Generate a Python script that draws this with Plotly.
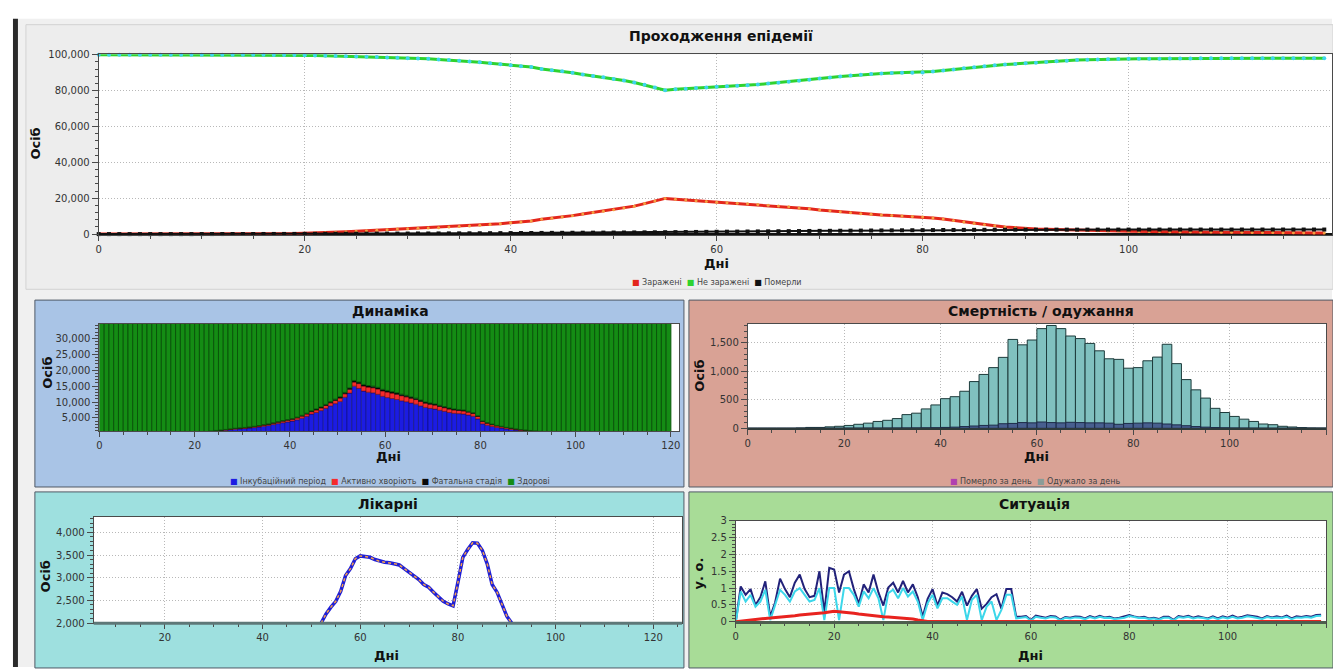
import numpy as np
import plotly.graph_objects as go

W, H = 1333, 672

# ---------------- data ----------------
days = list(range(120))

not_infected = [
    100000, 100000, 100000, 100000, 100000, 100000, 100000, 100000, 100000, 100000,
    100000, 100000, 100000, 100000, 100000, 100000, 99950, 99900, 99850, 99800,
    99700, 99600, 99500, 99350, 99200, 99050, 98900, 98700, 98500, 98300,
    98100, 97900, 97700, 97400, 97100, 96700, 96200, 95800, 95300, 94700,
    94100, 93600, 93100, 92000, 91400, 90800, 89900, 89000, 88200, 87400,
    86500, 85600, 84500, 83200, 81700, 80200, 80700, 81000, 81400, 81800,
    82100, 82400, 82700, 83000, 83400, 83900, 84400, 84900, 85500, 86100,
    86700, 87300, 87900, 88400, 88900, 89200, 89600, 89800, 89900, 90000,
    90100, 90600, 91200, 91800, 92400, 93000, 93600, 94100, 94500, 94900,
    95300, 95600, 95900, 96300, 96700, 97000, 97200, 97400, 97500, 97600,
    97700, 97800, 97800, 97800, 97900, 97900, 97900, 98000, 98000, 98000,
    98000, 98000, 98000, 98100, 98100, 98100, 98100, 98100, 98100, 98100]

infected = [
    10, 10, 10, 15, 15, 20, 20, 25, 25, 30,
    30, 35, 40, 45, 50, 55, 60, 100, 200, 300,
    450, 600, 800, 1000, 1300, 1600, 1900, 2200, 2500, 2800,
    3000, 3200, 3400, 3600, 3900, 4200, 4500, 4900, 5300, 5800,
    6300, 6800, 7300, 8300, 8900, 9500, 10300, 11200, 12000, 12800,
    13600, 14500, 15600, 17000, 18500, 19900, 19400, 19000, 18600, 18200,
    17800, 17500, 17200, 16900, 16500, 16100, 15700, 15200, 14600, 14100,
    13500, 13000, 12400, 11900, 11400, 11100, 10700, 10400, 10100, 9800,
    9500, 9000, 8400, 7600, 6700, 5900, 5200, 4600, 4000, 3500,
    3100, 2900, 2700, 2500, 2350, 2200, 2050, 1900, 1800, 1700,
    1600, 1500, 1450, 1400, 1350, 1300, 1250, 1200, 1150, 1100,
    1050, 1000, 950, 900, 850, 800, 750, 700, 650, 600]

dead = [
    0, 0, 0, 0, 0, 0, 0, 0, 0, 0,
    20, 30, 40, 50, 60, 70, 80, 90, 100, 110,
    120, 140, 160, 180, 200, 220, 240, 260, 280, 300,
    320, 340, 360, 380, 400, 420, 450, 480, 510, 540,
    570, 600, 630, 660, 690, 720, 750, 780, 810, 840,
    870, 900, 940, 980, 1020, 1060, 1100, 1150, 1200, 1250,
    1300, 1350, 1400, 1450, 1500, 1550, 1600, 1650, 1700, 1750,
    1800, 1840, 1880, 1920, 1960, 2000, 2040, 2080, 2120, 2160,
    2200, 2240, 2280, 2310, 2340, 2370, 2400, 2420, 2440, 2460,
    2480, 2490, 2490, 2500, 2500, 2500, 2510, 2510, 2510, 2520,
    2520, 2520, 2530, 2530, 2530, 2530, 2540, 2540, 2540, 2540,
    2540, 2550, 2550, 2550, 2550, 2550, 2550, 2550, 2550, 2550]

# Dynamics panel (stacked per day)
incubation = [
    0, 0, 0, 0, 0, 0, 0, 0, 0, 0,
    0, 0, 0, 0, 10, 20, 40, 70, 110, 160,
    300, 450, 600, 750, 900, 1000, 1150, 1300, 1450, 1550,
    1650, 1800, 1950, 2150, 2400, 2600, 2900, 3200, 3500, 3750,
    4000, 4400, 4900, 5500, 6200, 6700, 7300, 8000, 8800, 9500,
    10200, 11500, 12800, 15000, 14300, 13450, 13100, 12900, 12430, 11800,
    11400, 11100, 10800, 10400, 10100, 9700, 9330, 8800, 8300, 8000,
    7790, 7400, 7070, 6700, 6450, 6350, 6240, 5900, 5520, 4690,
    3140, 2700, 2300, 2000, 1800, 1550, 1380, 1200, 1050, 950,
    850, 750, 650, 550, 450, 380, 300, 230, 170, 120,
    90, 70, 50, 40, 30, 20, 15, 10, 5, 5,
    0, 0, 0, 0, 0, 0, 0, 0, 0, 0]

active = [
    0, 0, 0, 0, 0, 0, 0, 0, 0, 0,
    0, 0, 0, 0, 2, 4, 6, 10, 15, 20,
    30, 50, 70, 90, 110, 130, 150, 170, 200, 220,
    240, 260, 280, 300, 330, 360, 400, 440, 480, 520,
    560, 600, 650, 700, 760, 800, 850, 900, 950, 1000,
    1050, 1100, 1200, 1300, 1500, 1600, 1600, 1600, 1700, 1700,
    1750, 1700, 1650, 1600, 1550, 1500, 1450, 1400, 1350, 1300,
    1250, 1200, 1150, 1100, 1050, 1000, 950, 900, 850, 750,
    700, 600, 550, 450, 400, 350, 300, 250, 200, 150,
    120, 100, 80, 60, 50, 40, 30, 20, 10, 8,
    5, 5, 3, 2, 1, 0, 0, 0, 0, 0,
    0, 0, 0, 0, 0, 0, 0, 0, 0, 0]

fatal = [
    0, 0, 0, 0, 0, 0, 0, 0, 0, 0,
    0, 0, 0, 0, 0, 0, 2, 4, 6, 8,
    20, 25, 30, 40, 50, 60, 70, 80, 90, 100,
    110, 120, 130, 140, 150, 160, 170, 180, 190, 200,
    220, 240, 260, 280, 300, 320, 340, 360, 380, 400,
    420, 440, 460, 480, 500, 500, 500, 500, 500, 500,
    500, 480, 480, 460, 460, 440, 440, 420, 400, 400,
    380, 360, 350, 340, 320, 300, 300, 300, 280, 260,
    240, 220, 200, 180, 160, 140, 120, 100, 90, 80,
    70, 60, 50, 40, 30, 20, 20, 10, 10, 5,
    5, 5, 0, 0, 0, 0, 0, 0, 0, 0,
    0, 0, 0, 0, 0, 0, 0, 0, 0, 0]

healthy = not_infected  # "Здорові" – fills the rest of the column (clipped by axis)

# Mortality / recovery (2-day bins)
mort_days = list(range(0, 120, 2))
recovered = [
    0, 0, 0, 0, 0, 5, 15, 15, 25, 35,
    50, 70, 90, 120, 140, 170, 240, 265, 340, 410,
    520, 555, 650, 820, 945, 1065, 1245, 1560, 1465, 1550,
    1750, 1805, 1750, 1620, 1575, 1490, 1360, 1220, 1210, 1055,
    1065, 1185, 1250, 1475, 1135, 855, 675, 530, 350, 277,
    208, 160, 120, 75, 63, 35, 23, 12, 5, 3]
died = [
    0, 0, 0, 0, 0, 0, 0, 0, 0, 0,
    2, 2, 3, 3, 4, 5, 6, 7, 8, 10,
    15, 20, 30, 40, 50, 55, 80, 85, 100, 95,
    110, 100, 95, 105, 100, 95, 95, 90, 70, 85,
    90, 95, 90, 75, 60, 45, 30, 20, 12, 8,
    5, 3, 2, 1, 0, 0, 0, 0, 0, 0]

# Hospitals
hosp_days = list(range(52, 92))
hospital = [
    2000, 2200, 2350, 2480, 2700, 3050, 3200, 3420, 3480, 3470,
    3450, 3400, 3360, 3340, 3330, 3310, 3280, 3200, 3120, 3020,
    2960, 2850, 2790, 2680, 2580, 2480, 2420, 2380, 2900, 3450,
    3620, 3770, 3760, 3600, 3300, 2850, 2680, 2400, 2150, 2000]

# Situation
sit_navy = [
    0.0, 1.05, 0.8, 0.97, 0.5, 0.73, 1.2, 0.15, 0.58, 1.28,
    0.97, 0.73, 1.16, 1.4, 0.97, 0.73, 0.77, 1.5, 0.29, 1.6,
    1.55, 0.87, 1.4, 1.5, 0.97, 0.53, 1.11, 0.87, 1.4, 0.87,
    0.48, 1.02, 1.16, 0.87, 1.21, 0.87, 1.11, 0.73, 0.15, 0.68,
    0.97, 0.48, 0.87, 0.82, 0.73, 0.6, 0.89, 0.48, 0.77, 0.97,
    0.39, 0.53, 0.73, 0.82, 0.39, 0.97, 0.97, 0.15, 0.15, 0.17,
    0.05, 0.18, 0.15, 0.12, 0.17, 0.16, 0.06, 0.14, 0.12, 0.16,
    0.15, 0.1, 0.17, 0.12, 0.18, 0.13, 0.15, 0.1, 0.12, 0.15,
    0.2, 0.16, 0.13, 0.15, 0.1, 0.12, 0.08, 0.15, 0.15, 0.06,
    0.17, 0.14, 0.18, 0.12, 0.16, 0.13, 0.1, 0.16, 0.1, 0.16,
    0.12, 0.18, 0.12, 0.15, 0.19, 0.17, 0.15, 0.1, 0.17, 0.13,
    0.16, 0.13, 0.18, 0.1, 0.16, 0.14, 0.17, 0.15, 0.2, 0.21]
sit_cyan = [
    0.0, 0.9, 0.6, 0.8, 0.45, 0.6, 0.95, 0.05, 0.5, 0.95,
    0.8, 0.6, 0.9, 1.0, 0.8, 0.6, 0.65, 1.0, 0.05, 1.0,
    1.0, 0.05, 1.0, 1.0, 0.8, 0.45, 0.9, 0.7, 1.0, 0.7,
    0.05, 0.85, 0.95, 0.7, 1.0, 0.75, 0.9, 0.6, 0.05, 0.55,
    0.8, 0.4, 0.7, 0.7, 0.6, 0.5, 0.75, 0.05, 0.65, 0.8,
    0.05, 0.45, 0.6, 0.05, 0.35, 0.8, 0.8, 0.1, 0.12, 0.14,
    0.03, 0.15, 0.12, 0.1, 0.14, 0.13, 0.04, 0.12, 0.1, 0.13,
    0.12, 0.08, 0.14, 0.1, 0.15, 0.11, 0.12, 0.08, 0.1, 0.12,
    0.17, 0.13, 0.11, 0.12, 0.08, 0.1, 0.06, 0.12, 0.12, 0.04,
    0.14, 0.12, 0.15, 0.1, 0.13, 0.11, 0.08, 0.13, 0.08, 0.13,
    0.1, 0.15, 0.1, 0.12, 0.16, 0.14, 0.12, 0.08, 0.14, 0.11,
    0.13, 0.11, 0.15, 0.08, 0.13, 0.12, 0.14, 0.12, 0.17, 0.18]
sit_red = [
    0.0, 0.02, 0.03, 0.05, 0.07, 0.08, 0.1, 0.11, 0.12, 0.14,
    0.15, 0.17, 0.18, 0.2, 0.21, 0.22, 0.24, 0.25, 0.27, 0.29,
    0.31, 0.3, 0.29, 0.27, 0.25, 0.23, 0.21, 0.2, 0.18, 0.17,
    0.15, 0.14, 0.13, 0.12, 0.11, 0.1, 0.08, 0.05, 0.02, 0.01,
    0.01, 0.01, 0.01, 0.01, 0.01, 0.01, 0.01, 0.01, 0.01, 0.01,
    0.01, 0.01, 0.01, 0.01, 0.01, 0.01, 0.01, 0.01, 0.01, 0.01,
    0.01, 0.01, 0.01, 0.01, 0.01, 0.01, 0.01, 0.01, 0.01, 0.01,
    0.01, 0.01, 0.01, 0.01, 0.01, 0.01, 0.01, 0.01, 0.01, 0.01,
    0.01, 0.01, 0.01, 0.01, 0.01, 0.01, 0.01, 0.01, 0.01, 0.01,
    0.01, 0.01, 0.01, 0.01, 0.01, 0.01, 0.01, 0.01, 0.01, 0.01,
    0.01, 0.01, 0.01, 0.01, 0.01, 0.01, 0.01, 0.01, 0.01, 0.01,
    0.01, 0.01, 0.01, 0.01, 0.01, 0.01, 0.01, 0.01, 0.01, 0.01]

# ---------------- helpers ----------------
def fx(x):
    return x / W


def fy(y):
    return 1 - y / H


# plot areas in pixels: (left, right, top, bottom)
AREAS = {
    "top": (96, 1333, 49, 233),
    "dyn": (96.7, 678, 323, 432),
    "mort": (747, 1327, 323, 430),
    "hosp": (91, 681, 519, 627.5),
    "sit": (735, 1327, 523.3, 626.7),
}


def dom(key):
    l, r, t, b = AREAS[key]
    return [fx(l), min(fx(r), 1.0)], [fy(b), fy(t)]


FONT = "DejaVu Sans"
TICKFONT = dict(family=FONT, size=10, color="#333333")
GRIDDASH = "1px,2px"


def xax(key, rng, anchor, dtick=20, minor=5, grid=True, tick0=0, linecolor="#4a4a4a"):
    d = dom(key)[0]
    return dict(domain=d, range=rng, anchor=anchor, dtick=dtick, tick0=tick0,
                showline=True, linecolor=linecolor, linewidth=1, mirror=True,
                ticks="outside", ticklen=5, tickcolor="#4a4a4a", tickfont=TICKFONT,
                showgrid=grid, gridcolor="#b8b8b8", griddash=GRIDDASH, gridwidth=1,
                zeroline=False,
                minor=dict(dtick=minor, tick0=0, ticks="outside", ticklen=3,
                           tickcolor="#4a4a4a", showgrid=False))


def yax(key, rng, anchor, dtick, minor, grid=True, fmt=",", tick0=0, linecolor="#4a4a4a"):
    d = dom(key)[1]
    return dict(domain=d, range=rng, anchor=anchor, dtick=dtick, tick0=tick0,
                tickformat=fmt,
                showline=True, linecolor=linecolor, linewidth=1, mirror=True,
                ticks="outside", ticklen=6, tickcolor="#4a4a4a", tickfont=TICKFONT,
                showgrid=grid, gridcolor="#b8b8b8", griddash=GRIDDASH, gridwidth=1,
                zeroline=False,
                minor=dict(dtick=minor, tick0=0, ticks="outside", ticklen=3,
                           tickcolor="#4a4a4a", showgrid=False))


fig = go.Figure()

# ---------- top chart ----------
fig.add_trace(go.Scatter(x=days, y=not_infected, mode="lines+markers", name="Не заражені",
                         line=dict(color="#2fd22f", width=3),
                         marker=dict(color="#3ed4ee", size=4),
                         cliponaxis=False, xaxis="x", yaxis="y"))
fig.add_trace(go.Scatter(x=days, y=infected, mode="lines+markers", name="Заражені",
                         line=dict(color="#e3261c", width=3),
                         marker=dict(color="#f4a040", size=3),
                         cliponaxis=False, xaxis="x", yaxis="y"))
fig.add_trace(go.Scatter(x=days, y=dead, mode="lines+markers", name="Померли",
                         line=dict(color="#111111", width=2),
                         marker=dict(color="#111111", size=4, symbol="square"),
                         cliponaxis=False, xaxis="x", yaxis="y"))

# ---------- dynamics (stacked via base) ----------
inc = np.array(incubation, dtype=float)
act = np.array(active, dtype=float)
fat = np.array(fatal, dtype=float)
bar_common = dict(x=days, width=1, offset=0, xaxis="x2", yaxis="y2")
fig.add_trace(go.Bar(y=incubation, base=0, name="Інкубаційний період",
                     marker=dict(color="#1c1ce2", line=dict(color="#0a0a60", width=0.5)),
                     **bar_common))
fig.add_trace(go.Bar(y=active, base=inc, name="Активно хворіють",
                     marker=dict(color="#f52b2b", line=dict(color="#600000", width=0.5)),
                     **bar_common))
fig.add_trace(go.Bar(y=fatal, base=inc + act, name="Фатальна стадія",
                     marker=dict(color="#0a0a0a", line=dict(color="#000000", width=0.5)),
                     **bar_common))
fig.add_trace(go.Bar(y=healthy, base=inc + act + fat, name="Здорові",
                     marker=dict(color="#148c14", line=dict(color="#0a560a", width=1)),
                     **bar_common))

# ---------- mortality ----------
fig.add_trace(go.Bar(x=mort_days, y=recovered, width=2, offset=0, name="Одужало за день",
                     marker=dict(color="#80c1bf", line=dict(color="#1d3b3b", width=1)),
                     xaxis="x3", yaxis="y3"))
fig.add_trace(go.Bar(x=mort_days, y=died, width=2, offset=0, name="Померло за день",
                     marker=dict(color="#485f8f", line=dict(color="#1d2b48", width=1)),
                     xaxis="x3", yaxis="y3"))

# ---------- hospitals ----------
fig.add_trace(go.Scatter(x=hosp_days, y=hospital, mode="lines",
                         line=dict(color="#1f1fd6", width=3.5), xaxis="x4", yaxis="y4"))
fig.add_trace(go.Scatter(x=hosp_days, y=hospital, mode="lines",
                         line=dict(color="#f5a04a", width=1.5, dash="dot"),
                         xaxis="x4", yaxis="y4"))

# ---------- situation ----------
fig.add_trace(go.Scatter(x=days, y=sit_navy, mode="lines",
                         line=dict(color="#22227a", width=2), xaxis="x5", yaxis="y5"))
fig.add_trace(go.Scatter(x=days, y=sit_cyan, mode="lines",
                         line=dict(color="#3cd7ea", width=2), xaxis="x5", yaxis="y5"))
fig.add_trace(go.Scatter(x=days, y=sit_red, mode="lines",
                         line=dict(color="#e8231f", width=3), xaxis="x5", yaxis="y5"))

# ---------- background shapes ----------
def rect(x0, y0, x1, y1, fill, line=None, lw=1):
    return dict(type="rect", xref="paper", yref="paper", layer="below",
                x0=fx(x0), x1=fx(x1), y0=fy(y1), y1=fy(y0),
                fillcolor=fill,
                line=dict(color=line if line else fill, width=lw if line else 0))


def hline(key, color, width):
    l, r, t, b = AREAS[key]
    return dict(type="line", xref="paper", yref="paper", layer="above",
                x0=fx(l), x1=fx(r), y0=fy(b), y1=fy(b),
                line=dict(color=color, width=width))


shapes = [
    rect(15, 13, 1333, 672, "#f0f0f0"),
    rect(10, 13, 15, 672, "#2a2a2a"),
    rect(23, 19, 1334, 288, "#ededed", "#d2d2d2"),
    rect(32, 299, 683, 489, "#a9c4e6", "#505a66"),
    rect(688, 299, 1334, 489, "#d9a295", "#505a66"),
    rect(32, 494, 683, 673, "#9ee0df", "#505a66"),
    rect(688, 494, 1334, 673, "#a8dc97", "#505a66"),
]
for k in AREAS:
    l, r, t, b = AREAS[k]
    shapes.append(rect(l, t, r, b, "#ffffff"))
shapes += [
    hline("mort", "#2e3a3a", 2),
    hline("hosp", "#5e7878", 3),
    hline("sit", "#4e5e4e", 3),
]


# ---------- annotations ----------
def ann(text, x, y, size=14, bold=True, angle=0, color="#111111"):
    return dict(text=f"<b>{text}</b>" if bold else text, x=fx(x), y=fy(y),
                xref="paper", yref="paper", showarrow=False, textangle=angle,
                font=dict(family=FONT, size=size, color=color),
                xanchor="center", yanchor="middle")


def legend_text(items):
    sp = "\u00a0\u00a0"
    return sp.join(f'<span style="color:{c}">■</span>\u00a0{t}' for c, t in items)


annotations = [
    ann("Проходження епідемії", 720, 31, 14),
    ann("Осіб", 33, 140, 13, angle=-90),
    ann("Дні", 716, 262, 13),
    ann(legend_text([("#e3261c", "Заражені"), ("#2fd22f", "Не заражені"),
                     ("#111111", "Померли")]), 716, 281, 8, bold=False, color="#444444"),

    ann("Динаміка", 389, 310, 14),
    ann("Осіб", 45, 373, 13, angle=-90),
    ann("Дні", 387, 458, 13),
    ann(legend_text([("#1c1ce2", "Інкубаційний період"), ("#f52b2b", "Активно хворіють"),
                     ("#0a0a0a", "Фатальна стадія"), ("#148c14", "Здорові")]),
        388, 483, 8, bold=False, color="#444444"),

    ann("Смертність / одужання", 1041, 310, 14),
    ann("Осіб", 699, 376, 13, angle=-90),
    ann("Дні", 1037, 458, 13),
    ann(legend_text([("#b040b0", "Померло за день"), ("#8a9c98", "Одужало за день")]),
        1036, 483, 8, bold=False, color="#444444"),

    ann("Лікарні", 386, 506, 14),
    ann("Осіб", 43, 580, 13, angle=-90),
    ann("Дні", 385, 660, 13),

    ann("Ситуація", 1035, 506, 14),
    ann("у. о.", 698, 577, 13, angle=-90),
    ann("Дні", 1031, 660, 13),
]

top_y = yax("top", [-600, 100300], "x", 20000, 4000)
top_y.update(zeroline=True, zerolinecolor="#111111", zerolinewidth=2)

fig.update_layout(
    width=W, height=H, autosize=False,
    margin=dict(l=0, r=0, t=0, b=0),
    paper_bgcolor="#ffffff", plot_bgcolor="rgba(0,0,0,0)",
    showlegend=False, barmode="overlay", hovermode=False,
    font=dict(family=FONT, size=10, color="#333333"),
    xaxis=xax("top", [0, 119.75], "y"),
    yaxis=top_y,
    xaxis2=xax("dyn", [0, 121.7], "y2", grid=False),
    yaxis2=yax("dyn", [900, 34650], "x2", 5000, 1000, grid=False),
    xaxis3=xax("mort", [0, 120], "y3"),
    yaxis3=yax("mort", [-12, 1836], "x3", 500, 100),
    xaxis4=xax("hosp", [5.45, 125.85], "y4"),
    yaxis4=yax("hosp", [1995, 4350], "x4", 500, 100),
    xaxis5=xax("sit", [0, 120], "y5"),
    yaxis5=yax("sit", [-0.02, 3.0], "x5", 0.5, 0.1, fmt=""),
    shapes=shapes,
    annotations=annotations,
)

fig.write_html(
    "out.html",
    config={"displayModeBar": False, "staticPlot": True},
    post_script="document.body.style.margin='0';document.body.style.padding='0';"
                "document.body.style.overflow='hidden';"
                "document.documentElement.style.overflow='hidden';",
)
